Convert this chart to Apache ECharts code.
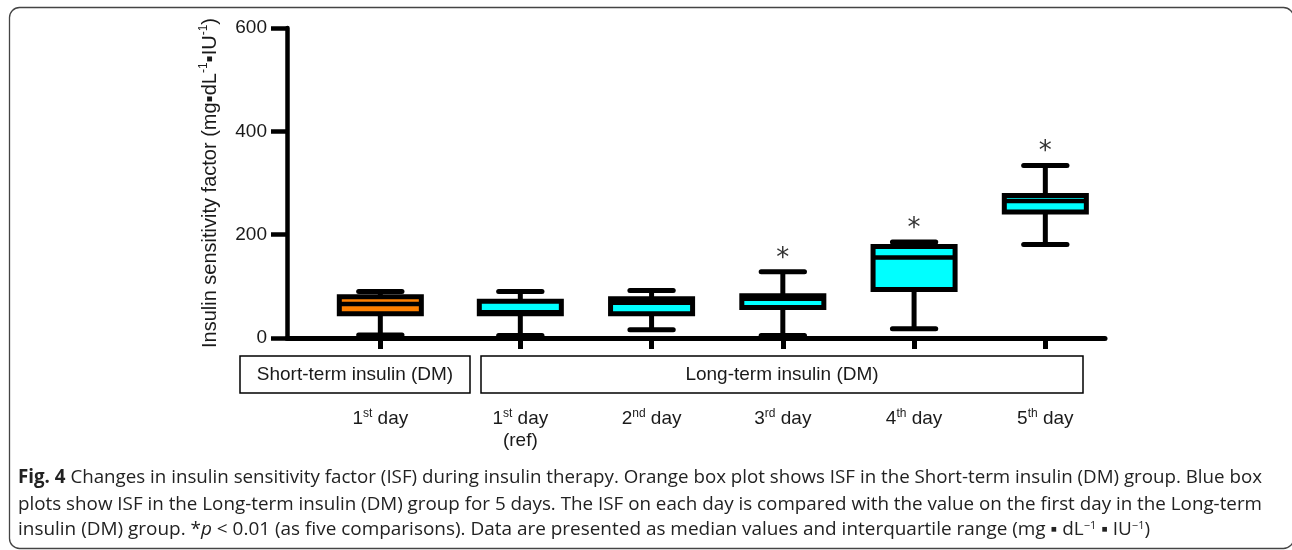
<!DOCTYPE html>
<html><head><meta charset="utf-8">
<script src="https://cdn.jsdelivr.net/npm/echarts@6/dist/echarts.min.js"></script>
<style>html,body{margin:0;padding:0;background:#fff}#c{width:1292px;height:550px}</style>
</head><body><div id="c"></div>
<script>
// ---- data (ISF, mg·dL-1·IU-1) : [min, Q1, median, Q3, max]
const shortCategories = ['1st day'];
const longCategories = ['1st day\n(ref)', '2nd day', '3rd day', '4th day', '5th day'];
const shortBox = [[6, 47, 66, 80, 90]];
const longBox = [
  [5, 47, 50, 71, 90],
  [16, 47, 68, 76, 92],
  [5, 59, 76, 82, 128],
  [18, 94, 156, 177, 186],
  [181, 244, 265, 276, 334]
];
const longSignificant = [false, false, true, true, true];
const yMin = 0, yMax = 600, yStep = 200;
const groupLabels = ['Short-term insulin (DM)', 'Long-term insulin (DM)'];
const captionLines = [
  '{b|Fig. 4} Changes in insulin sensitivity factor (ISF) during insulin therapy. Orange box plot shows ISF in the Short-term insulin (DM) group. Blue box',
  'plots show ISF in the Long-term insulin (DM) group for 5 days. The ISF on each day is compared with the value on the first day in the Long-term',
  'insulin (DM) group. *{i|p} < 0.01 (as five comparisons). Data are presented as median values and interquartile range (mg ▪ dL{s|−1} ▪ IU{s|−1})'
];

const FONT = '"Liberation Sans", Arial, Helvetica, sans-serif';
const CAP_FONT = '"Open Sans", "Noto Sans", sans-serif';
const TXT = '#1a1a1a';

function supFmt(s) { return s.replace(/(\d)(st|nd|rd|th)/, '$1{sup|$2}'); }

function makeRender(fill) {
  return function (params, api) {
    const i = api.value(0);
    const lo = api.coord([i, api.value(1)]);
    const q1 = api.coord([i, api.value(2)]);
    const md = api.coord([i, api.value(3)]);
    const q3 = api.coord([i, api.value(4)]);
    const hi = api.coord([i, api.value(5)]);
    const star = api.value(6);
    const band = api.size([1, 0])[0];
    const cx = lo[0];
    const bw = band * 0.625, cw = band * 0.33;
    const ls = { stroke: '#000', lineWidth: 5 };
    const children = [
      { type: 'line', shape: { x1: cx, y1: hi[1], x2: cx, y2: lo[1] }, style: ls },
      { type: 'line', shape: { x1: cx - cw / 2, y1: hi[1], x2: cx + cw / 2, y2: hi[1] }, style: Object.assign({ lineCap: 'round' }, ls) },
      { type: 'line', shape: { x1: cx - cw / 2, y1: lo[1], x2: cx + cw / 2, y2: lo[1] }, style: Object.assign({ lineCap: 'round' }, ls) },
      { type: 'rect', shape: { x: cx - bw / 2, y: q3[1], width: bw, height: q1[1] - q3[1] }, style: { fill: fill, stroke: '#000', lineWidth: 5 } },
      { type: 'line', shape: { x1: cx - bw / 2, y1: md[1], x2: cx + bw / 2, y2: md[1] }, style: { stroke: '#000', lineWidth: 4.5 } }
    ];
    if (star) {
      children.push({ type: 'text', style: { text: '*', x: cx, y: hi[1] - 13, align: 'center', textAlign: 'center', verticalAlign: 'middle', textVerticalAlign: 'middle', fontSize: 26, fontFamily: '"DejaVu Sans", sans-serif', fill: '#333' } });
    }
    return { type: 'group', children: children };
  };
}

function measure(segs) {
  const c = document.createElement('canvas').getContext('2d');
  let w = 0;
  segs.forEach(function (s) { c.font = s[1]; w += c.measureText(s[0]).width; });
  return w;
}
const CS = 19;
const N = CS + 'px "Open Sans"', B = 'bold ' + CS + 'px "Open Sans"', I = 'italic ' + CS + 'px "Open Sans"', S = '11px "Open Sans"';
function segsOf(line) {
  const out = [];
  const re = /\{(\w)\|([^}]*)\}/g; let last = 0, m;
  while ((m = re.exec(line))) {
    if (m.index > last) out.push([line.slice(last, m.index), N]);
    out.push([m[2], m[1] === 'b' ? B : m[1] === 'i' ? I : S]);
    last = re.lastIndex;
  }
  if (last < line.length) out.push([line.slice(last), N]);
  return out;
}
const capTargets = [1244, 1244, 1132];
const capY = [478, 505, 530];

const chart = echarts.init(document.getElementById('c'), null, { renderer: 'canvas' });

const axisLabelCat = {
  interval: 0, margin: 70, fontSize: 19, fontFamily: FONT, color: TXT, lineHeight: 22,
  formatter: supFmt,
  rich: { sup: { fontSize: 12, fontFamily: FONT, color: TXT, verticalAlign: 'top', lineHeight: 16 } }
};
const tickCat = { show: true, interval: 0, alignWithLabel: true, length: 11, lineStyle: { color: '#000', width: 5 } };

const graphics = [
  { type: 'rect', shape: { x: 9.5, y: 7.5, width: 1284, height: 541, r: 10 }, style: { fill: 'none', stroke: '#444', lineWidth: 1.3 }, silent: true },
  { type: 'rect', shape: { x: 240, y: 356, width: 230, height: 37 }, style: { fill: '#fff', stroke: '#000', lineWidth: 1.5 } },
  { type: 'text', x: 355, y: 375, style: { text: groupLabels[0], fontSize: 19, fontFamily: FONT, fill: TXT, align: 'center', textAlign: 'center', verticalAlign: 'middle', textVerticalAlign: 'middle' } },
  { type: 'rect', shape: { x: 481, y: 356, width: 602, height: 37 }, style: { fill: '#fff', stroke: '#000', lineWidth: 1.5 } },
  { type: 'text', x: 782, y: 375, style: { text: groupLabels[1], fontSize: 19, fontFamily: FONT, fill: TXT, align: 'center', textAlign: 'center', verticalAlign: 'middle', textVerticalAlign: 'middle' } }
];
captionLines.forEach(function (line, k) {
  const w = measure(segsOf(line));
  graphics.push({
    type: 'text', x: 18, y: capY[k], scaleX: capTargets[k] / w, originX: 0, originY: 0,
    style: {
      text: line, fontSize: CS, fontFamily: CAP_FONT, fill: '#222', verticalAlign: 'middle', textVerticalAlign: 'middle',
      rich: {
        b: { fontSize: CS, fontWeight: 'bold', fontFamily: CAP_FONT, fill: '#222', color: '#222' },
        i: { fontSize: CS, fontStyle: 'italic', fontFamily: CAP_FONT, fill: '#222', color: '#222' },
        s: { fontSize: 11, fontFamily: CAP_FONT, fill: '#222', color: '#222', verticalAlign: 'top', lineHeight: 14 }
      }
    }
  });
});

chart.setOption({
  animation: false,
  backgroundColor: '#fff',
  grid: [
    { left: 287, right: 187, top: 28, bottom: 212 },
    { left: 314.7, width: 131.25, top: 28, bottom: 212 },
    { left: 454.7, width: 656.25, top: 28, bottom: 212 }
  ],
  xAxis: [
    { gridIndex: 0, type: 'value', min: 0, max: 1, axisLine: { show: true, onZero: false, lineStyle: { color: '#000', width: 5 } }, axisTick: { show: false }, axisLabel: { show: false }, splitLine: { show: false } },
    { gridIndex: 1, type: 'category', data: shortCategories, boundaryGap: true, axisLine: { show: false }, axisTick: tickCat, axisLabel: axisLabelCat },
    { gridIndex: 2, type: 'category', data: longCategories, boundaryGap: true, axisLine: { show: false }, axisTick: tickCat, axisLabel: axisLabelCat }
  ],
  yAxis: [
    {
      gridIndex: 0, type: 'value', min: yMin, max: yMax, interval: yStep,
      axisLine: { show: true, onZero: false, lineStyle: { color: '#000', width: 4.5 } },
      axisTick: { show: true, length: 16, lineStyle: { color: '#000', width: 4.5 } },
      axisLabel: { margin: 20, fontSize: 19, fontFamily: FONT, color: TXT },
      splitLine: { show: false },
      name: '{t|Insulin sensitivity factor (mg▪dL}{sup|-1}{t|▪IU}{sup|-1}{t|)}',
      nameLocation: 'middle', nameGap: 65, nameRotate: 90,
      nameTextStyle: {
        fontSize: 20, fontFamily: FONT, color: TXT,
        rich: {
          t: { fontSize: 20, fontFamily: FONT, color: TXT, lineHeight: 24 },
          sup: { fontSize: 12, fontFamily: FONT, color: TXT, verticalAlign: 'top', lineHeight: 24 }
        }
      }
    },
    { gridIndex: 1, type: 'value', min: yMin, max: yMax, show: false },
    { gridIndex: 2, type: 'value', min: yMin, max: yMax, show: false }
  ],
  series: [
    { type: 'custom', xAxisIndex: 1, yAxisIndex: 1, z: 10, renderItem: makeRender('#FF8000'),
      encode: { x: 0, y: [1, 2, 3, 4, 5] },
      data: shortBox.map(function (d, i) { return [i].concat(d, [0]); }) },
    { type: 'custom', xAxisIndex: 2, yAxisIndex: 2, z: 10, renderItem: makeRender('#00FFFF'),
      encode: { x: 0, y: [1, 2, 3, 4, 5] },
      data: longBox.map(function (d, i) { return [i].concat(d, [longSignificant[i] ? 1 : 0]); }) }
  ],
  graphic: graphics
});
</script></body></html>
